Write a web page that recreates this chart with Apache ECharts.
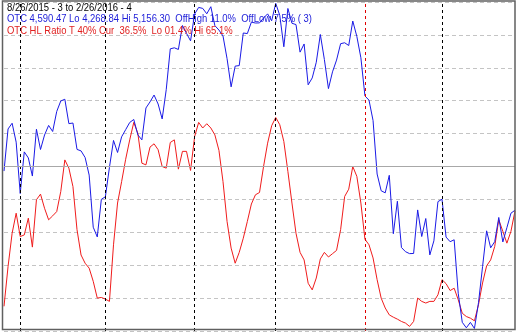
<!DOCTYPE html>
<html><head><meta charset="utf-8">
<script src="https://cdn.jsdelivr.net/npm/echarts@6/dist/echarts.min.js"></script>
<style>html,body{margin:0;padding:0;background:#fff}#c{width:517px;height:332px}</style>
</head><body><div id="c"></div><script>
const dates = [
'8/26','8/27','8/28','8/31',
'9/1','9/2','9/3','9/4','9/8','9/9','9/10','9/11','9/14','9/15','9/16','9/17','9/18','9/21','9/22','9/23','9/24','9/25','9/28','9/29','9/30',
'10/1','10/2','10/5','10/6','10/7','10/8','10/9','10/12','10/13','10/14','10/15','10/16','10/19','10/20','10/21','10/22','10/23','10/26','10/27','10/28','10/29','10/30',
'11/2','11/3','11/4','11/5','11/6','11/9','11/10','11/11','11/12','11/13','11/16','11/17','11/18','11/19','11/20','11/23','11/24','11/25','11/27','11/30',
'12/1','12/2','12/3','12/4','12/7','12/8','12/9','12/10','12/11','12/14','12/15','12/16','12/17','12/18','12/21','12/22','12/23','12/24','12/28','12/29','12/30','12/31',
'1/4','1/5','1/6','1/7','1/8','1/11','1/12','1/13','1/14','1/15','1/19','1/20','1/21','1/22','1/25','1/26','1/27','1/28','1/29',
'2/1','2/2','2/3','2/4','2/5','2/8','2/9','2/10','2/11','2/12','2/16','2/17','2/18','2/19','2/22','2/23','2/24','2/25','2/26'];

const otc = [
4697.54,4812.71,4828.33,4776.51,
4636.10,4749.98,4733.50,4683.92,4811.93,4756.53,4796.25,4822.34,4805.76,4860.52,4889.24,4893.95,4827.23,4828.95,4756.72,4752.74,4734.48,4686.50,4543.97,4517.32,4620.16,
4627.08,4707.78,4781.26,4748.36,4791.15,4810.79,4830.47,4838.64,4796.61,4782.85,4870.10,4886.69,4905.47,4880.97,4840.12,4920.05,5031.86,5034.70,5030.15,5095.69,5074.27,5053.75,
5127.15,5145.13,5142.48,5127.74,5147.12,5095.30,5083.24,5067.02,5005.08,4927.88,4984.62,4986.02,5075.20,5073.64,5104.92,5102.48,5102.81,5116.14,5127.52,5108.67,
5156.31,5123.22,5037.53,5142.27,5101.81,5098.24,5022.87,5045.17,4933.47,4952.23,4995.13,5071.13,5002.55,4923.08,4968.92,5001.11,5045.93,5048.49,5040.99,5107.94,5065.85,5007.41,
4903.09,4891.43,4835.76,4689.43,4643.63,4637.99,4685.92,4526.06,4615.00,4488.42,4476.95,4471.69,4472.06,4591.18,4518.49,4567.67,4468.17,4506.68,4613.95,
4620.37,4516.95,4504.24,4509.56,4363.14,4283.76,4268.76,4283.59,4266.84,4337.51,4435.96,4534.06,4487.54,4504.43,4570.61,4503.58,4542.61,4582.21,4590.47];

const hlRatio = [
7.5,19.6,29.7,35.8,
28.7,29.2,34.3,25.5,39.9,41.6,37.3,33.8,35.0,36.3,42.4,52.0,49.5,43.9,30.8,23.1,20.6,19.1,15.1,10.0,10.2,
9.7,9.0,26.2,38.9,45.4,52.2,58.1,63.4,60.1,51.0,50.5,55.9,56.9,55.1,50.0,49.5,57.3,58.1,49.2,54.6,54.6,48.8,
59.1,63.4,61.7,63.0,61.7,59.6,54.9,45.4,33.3,25.2,20.6,23.9,28.2,33.3,38.6,41.4,42.1,50.0,57.1,62.4,
64.9,62.7,57.6,48.5,38.9,29.7,23.9,21.6,14.5,12.5,16.1,21.9,23.9,22.5,23.5,24.5,30.8,40.9,43.1,50.0,47.0,38.9,
27.9,26.2,22.2,15.6,10.0,7.0,4.9,4.2,3.6,2.9,2.4,1.4,2.9,10.0,9.0,8.5,9.0,9.0,11.0,
15.6,14.4,12.3,13.0,9.5,5.4,4.4,3.9,3.1,8.0,14.6,19.8,21.6,25.7,33.8,30.3,26.7,30.3,36.5];

const monthLines = ['9/1','10/1','11/2','12/1','2/1'];
const yearLines = ['1/4'];
const ratioTicks = [0,10,20,30,40,50,60,70,80,90,100];

const header = [
  {text:'8/26/2015 - 3 to 2/26/2016 - 4', color:'#000000'},
  {text:'OTC 4,590.47 Lo 4,268.84 Hi 5,156.30  OffHigh 11.0%  OffLow 7.5% ( 3)', color:'#1c1cd8'},
  {text:'OTC HL Ratio T 40% Cur  36.5%  Lo 01.4% Hi 65.1%', color:'#e02020'}
];

const chart = echarts.init(document.getElementById('c'), null, {renderer:'canvas'});

const vlines = monthLines.map(d => ({xAxis:d, lineStyle:{color:'#000', type:[3,3], width:1}}))
  .concat(yearLines.map(d => ({xAxis:d, lineStyle:{color:'#e00000', type:[3,3], width:1}})))
  .concat([{yAxis:50, lineStyle:{color:'#a8a8a8', type:'solid', width:1}}]);

chart.setOption({
  animation:false,
  backgroundColor:'#ffffff',
  grid:{left:4, right:2, top:2, height:329, containLabel:false},
  xAxis:{type:'category', data:dates, boundaryGap:false,
    axisLine:{show:false}, axisTick:{show:false}, axisLabel:{show:false}, splitLine:{show:false}},
  yAxis:[
    {type:'value', min:ratioTicks[0], max:ratioTicks[ratioTicks.length-1], interval:10,
     axisLine:{show:false}, axisTick:{show:false}, axisLabel:{show:false},
     splitLine:{show:true, lineStyle:{color:'#c4c4c4', type:[4,3], width:1}}},
    {type:'value', min:4260, max:5160,
     axisLine:{show:false}, axisTick:{show:false}, axisLabel:{show:false}, splitLine:{show:false}}
  ],
  series:[
    {type:'line', name:'HL Ratio', data:hlRatio, yAxisIndex:0, symbol:'none',
     lineStyle:{color:'#f01c1c', width:1}, z:3,
     markLine:{silent:true, symbol:'none', label:{show:false}, data:vlines, animation:false}},
    {type:'line', name:'OTC', data:otc, yAxisIndex:1, symbol:'none',
     lineStyle:{color:'#1a1ae6', width:1}, z:4}
  ],
  graphic:[
    {type:'rect', shape:{x:2.5, y:1, width:512.5, height:328.5}, style:{fill:'none', stroke:'#606060', lineWidth:1.5}, z:100, silent:true}
  ].concat(header.map((h,i) => ({
    type:'text', x:7, y:7.5 + i*11.8, scaleX:0.86, z:50, silent:true,
    style:{text:h.text, font:'11px "Liberation Sans", Arial, sans-serif', fill:h.color, verticalAlign:'middle', align:'left'}
  })))
});
</script></body></html>
